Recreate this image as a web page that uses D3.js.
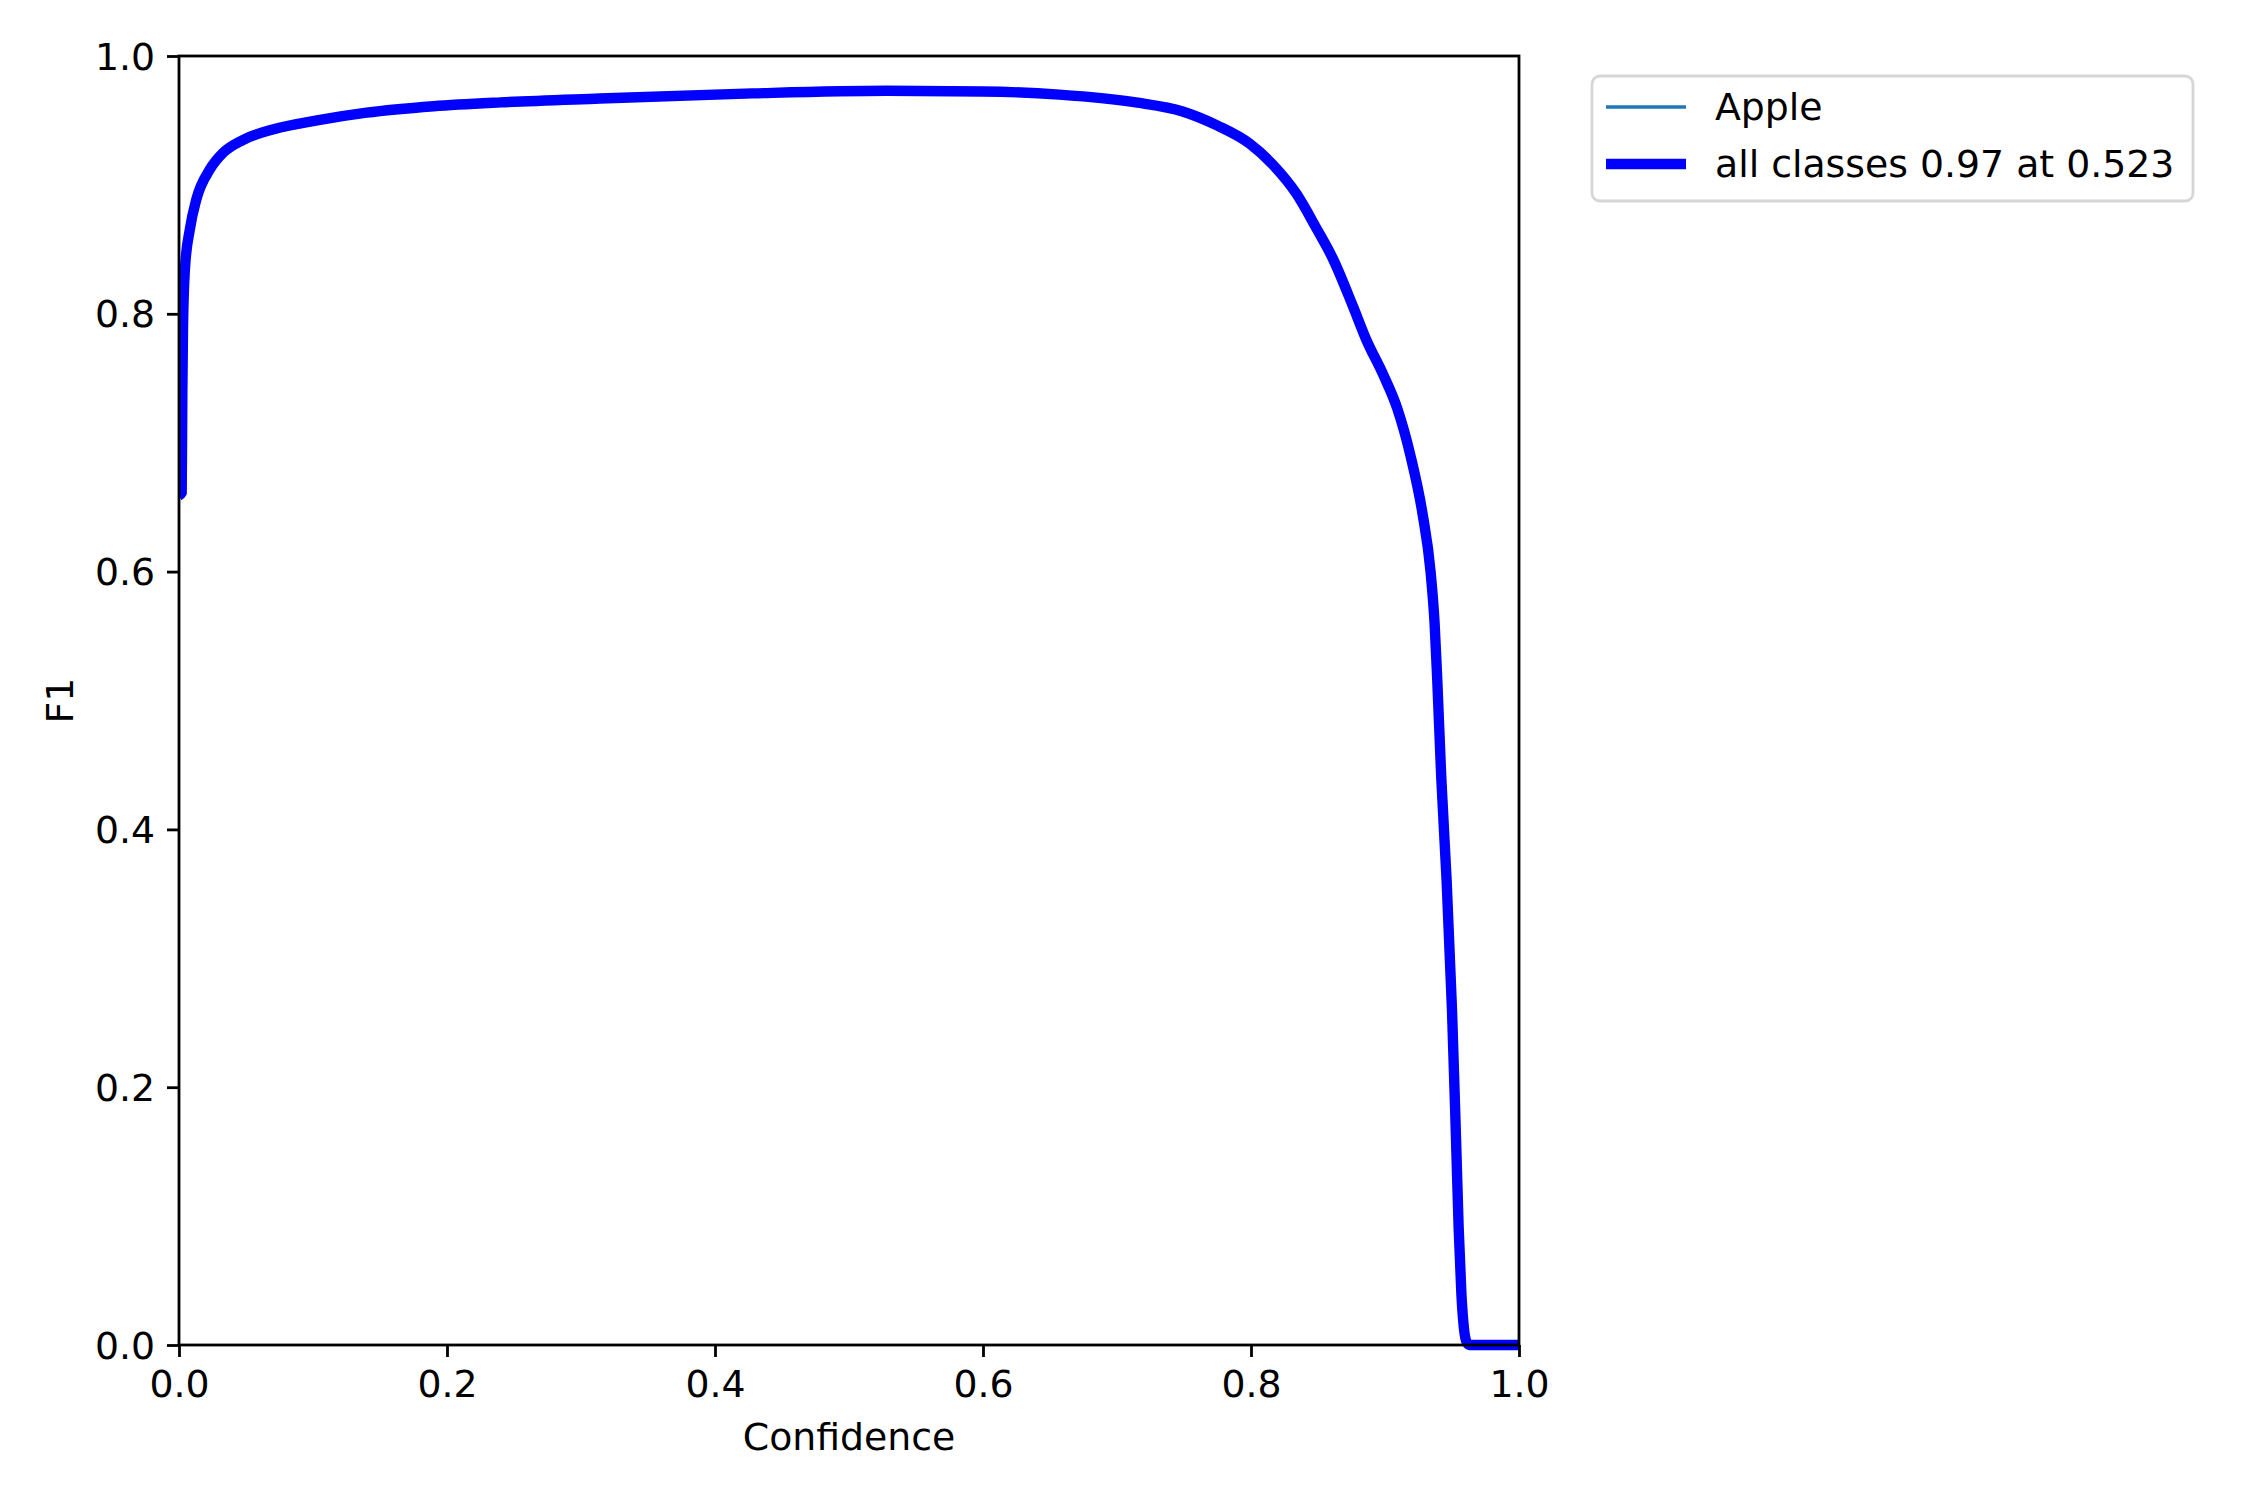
<!DOCTYPE html>
<html>
<head>
<meta charset="utf-8">
<script src="https://cdn.jsdelivr.net/npm/d3@7"></script>
<style>
  html, body { margin: 0; padding: 0; background: #fff; }
  svg text { font-family: "DejaVu Sans", sans-serif; fill: #000; }
</style>
</head>
<body>
<svg id="chart" width="2250" height="1500"></svg>
<script>
// ---- data ----
const confidence = [0, 0.002, 0.0025, 0.003, 0.0045, 0.008, 0.013, 0.023, 0.033, 0.048, 0.070, 0.103, 0.140, 0.190, 0.240, 0.314, 0.428, 0.528, 0.600, 0.657, 0.714, 0.749, 0.775, 0.799, 0.816, 0.834, 0.849, 0.861, 0.876, 0.886, 0.899, 0.909, 0.919, 0.928, 0.934, 0.937, 0.939, 0.942, 0.946, 0.950, 0.953, 0.955, 0.957, 0.959, 0.961, 0.963, 1.0];
const f1Apple    = [0.659, 0.661, 0.74, 0.79, 0.836, 0.865, 0.889, 0.912, 0.925, 0.935, 0.943, 0.950, 0.956, 0.961, 0.964, 0.967, 0.971, 0.973, 0.9725, 0.970, 0.964, 0.957, 0.946, 0.932, 0.916, 0.893, 0.866, 0.843, 0.806, 0.780, 0.752, 0.727, 0.690, 0.645, 0.600, 0.560, 0.516, 0.44, 0.36, 0.26, 0.16, 0.09, 0.04, 0.012, 0.002, 0, 0];
const f1All      = f1Apple.slice(); // single class: identical curve
const xTicks = [0, 0.2, 0.4, 0.6, 0.8, 1.0];
const yTicks = [0, 0.2, 0.4, 0.6, 0.8, 1.0];
const legendLabels = ["Apple", "all classes 0.97 at 0.523"];

// ---- layout ----
const L = 179, R = 1519, T = 56, B = 1345;
const FS = 37.8;
const svg = d3.select("#chart");

const x = d3.scaleLinear().domain([0, 1]).range([L, R]);
const y = d3.scaleLinear().domain([0, 1]).range([B, T]);

svg.append("defs").append("clipPath").attr("id", "clip")
  .append("rect").attr("x", L).attr("y", T - 6).attr("width", R - L).attr("height", B - T + 12);

const line = d3.line().x((d, i) => x(confidence[i])).y(d => y(d)).curve(d3.curveMonotoneX);

const g = svg.append("g").attr("clip-path", "url(#clip)");
g.append("path").datum(f1Apple).attr("d", line)
  .attr("fill", "none").attr("stroke", "#1f77b4").attr("stroke-width", 3.47)
  .attr("stroke-linejoin", "round");
g.append("path").datum(f1All).attr("d", line)
  .attr("fill", "none").attr("stroke", "#0000ff").attr("stroke-width", 10.4)
  .attr("stroke-linejoin", "round").attr("stroke-linecap", "butt");

// axes
const xAxis = d3.axisBottom(x).tickValues(xTicks).tickFormat(d3.format(".1f"))
  .tickSize(12).tickPadding(12);
const yAxis = d3.axisLeft(y).tickValues(yTicks).tickFormat(d3.format(".1f"))
  .tickSize(12).tickPadding(12);

const gx = svg.append("g").attr("transform", `translate(0,${B})`).call(xAxis);
const gy = svg.append("g").attr("transform", `translate(${L},0)`).call(yAxis);
[gx, gy].forEach(a => {
  a.select(".domain").remove();
  a.selectAll(".tick line").attr("stroke", "#000").attr("stroke-width", 2.8);
  a.selectAll(".tick text").attr("font-size", FS).attr("font-family", "DejaVu Sans").attr("fill", "#000");
});
gx.selectAll(".tick text").attr("dy", null).attr("y", 24 + 0.74 * FS);
gy.selectAll(".tick text").attr("dy", null).attr("dominant-baseline", "central").attr("x", -24);

// frame (spines)
svg.append("rect").attr("x", L).attr("y", T).attr("width", R - L).attr("height", B - T)
  .attr("fill", "none").attr("stroke", "#000").attr("stroke-width", 2.8);

// axis labels
svg.append("text").attr("x", (L + R) / 2).attr("y", 1450)
  .attr("text-anchor", "middle").attr("font-size", FS).text("Confidence");
svg.append("text").attr("transform", `translate(73,${(T + B) / 2}) rotate(-90)`)
  .attr("text-anchor", "middle").attr("font-size", FS).text("F1");

// legend
const lg = svg.append("g");
lg.append("rect").attr("x", 1592).attr("y", 76).attr("width", 601).attr("height", 125)
  .attr("rx", 8).attr("ry", 8).attr("fill", "#fff").attr("fill-opacity", 0.8)
  .attr("stroke", "#d6d6d6").attr("stroke-width", 2.8);
const legendItems = [
  { label: legendLabels[0], color: "#1f77b4", w: 3.47, yy: 107 },
  { label: legendLabels[1], color: "#0000ff", w: 10.4, yy: 164 }
];
legendItems.forEach(it => {
  lg.append("line").attr("x1", 1606).attr("x2", 1686).attr("y1", it.yy).attr("y2", it.yy)
    .attr("stroke", it.color).attr("stroke-width", it.w);
  lg.append("text").attr("x", 1715).attr("y", it.yy).attr("dominant-baseline", "central")
    .attr("font-size", FS).text(it.label);
});
</script>
</body>
</html>
